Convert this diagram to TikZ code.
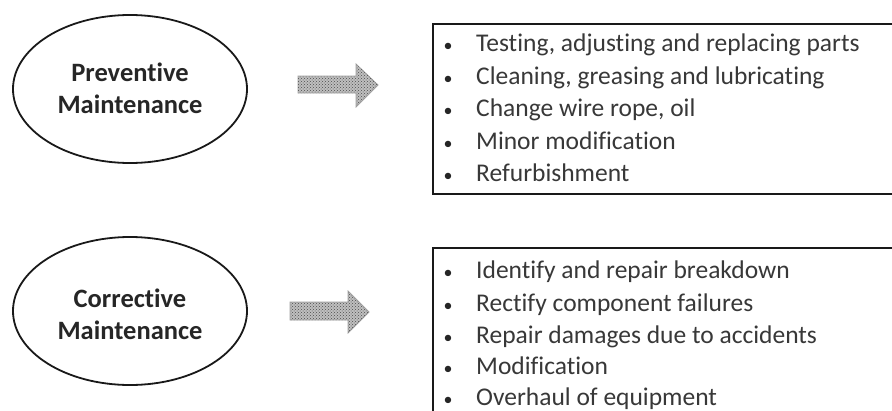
\documentclass[tikz,border=0pt]{standalone}
\usepackage{fontspec}
\setmainfont{Carlito}[Ligatures=NoCommon]
\usetikzlibrary{patterns,shapes.geometric}
\tikzset{
  oval/.style={draw=black!90, line width=1.8pt, ellipse, minimum width=234pt, minimum height=148pt, inner sep=0pt},
  ovaltext/.style={font=\bfseries\fontsize{26.5}{32}\selectfont, text=black!85, align=center},
  listbox/.style={draw=black!90, line width=1.8pt},
  itemtext/.style={anchor=base west, font=\fontsize{25.5}{28}\selectfont, text=black!78, inner sep=0pt},
  bul/.style={anchor=base, font=\fontsize{18}{20}\selectfont, text=black!85, inner sep=0pt},
  blockarrow/.style={draw=gray!75, line width=0.8pt, fill=gray!50, postaction={pattern=crosshatch dots, pattern color=gray!60!black}}
}
\begin{document}
\begin{tikzpicture}[x=1pt,y=-1pt]
\clip (0,0) rectangle (892,410);
\fill[white] (0,0) rectangle (892,410);
% top row
\node[oval] (e1) at (130,89) {};
\node[ovaltext] (t1) at (130,88) {Preventive\\Maintenance};
\draw[blockarrow] (298,76) -- (356,76) -- (356,64) -- (378,85) -- (356,107) -- (356,93) -- (298,93) -- cycle;
\draw[listbox] (433,24) rectangle (900,194);
\foreach \y/\t [count=\i] in {51/{Testing, adjusting and replacing parts},84/{Cleaning, greasing and lubricating},116/{Change wire rope, oil},149/{Minor modification},181/{Refurbishment}}{
  \node[bul] (pb\i) at (448,\y) {\textbullet};
  \node[itemtext] (pt\i) at (476,\y) {\t};
}
% bottom row
\node[oval] (e2) at (130,311) {};
\node[ovaltext] (t2) at (130,314) {Corrective\\Maintenance};
\draw[blockarrow] (290,302) -- (348,302) -- (348,291) -- (369,312) -- (348,333) -- (348,320) -- (290,320) -- cycle;
\draw[listbox] (433,248) rectangle (900,430);
\foreach \y/\t [count=\i] in {278/{Identify and repair breakdown},311/{Rectify component failures},343/{Repair damages due to accidents},374/{Modification},405/{Overhaul of equipment}}{
  \node[bul] (cb\i) at (448,\y) {\textbullet};
  \node[itemtext] (ct\i) at (476,\y) {\t};
}
\end{tikzpicture}
\end{document}
